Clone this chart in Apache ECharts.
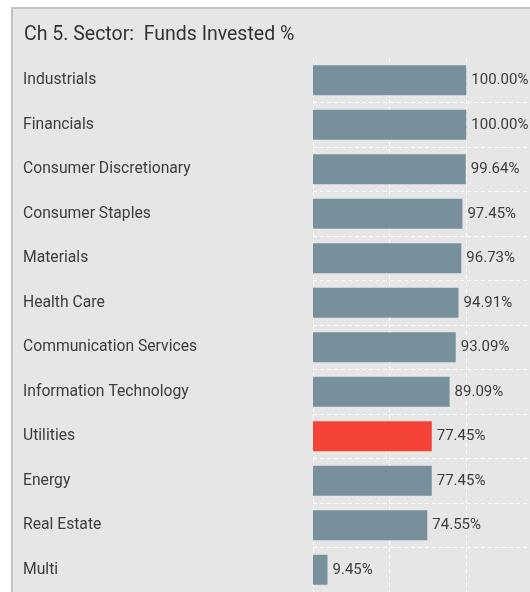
<!DOCTYPE html>
<html>
<head>
<meta charset="utf-8">
<script src="https://cdn.jsdelivr.net/npm/echarts@6/dist/echarts.min.js"></script>
<style>
html,body{margin:0;padding:0;background:#fff;overflow:hidden;width:530px;height:592px;}
#c{width:543px;height:592px;}
</style>
</head>
<body>
<div id="c"></div>
<script>
var categories = ["Industrials","Financials","Consumer Discretionary","Consumer Staples","Materials","Health Care","Communication Services","Information Technology","Utilities","Energy","Real Estate","Multi"];
var values = [100.00,100.00,99.64,97.45,96.73,94.91,93.09,89.09,77.45,77.45,74.55,9.45];
var highlight = "Utilities";
var xTicks = [0,50,100,150];

var chart = echarts.init(document.getElementById('c'), null, {renderer:'canvas'});
var FONT = "Roboto, 'Noto Sans', sans-serif";
chart.setOption({
  backgroundColor:'#ffffff',
  animation:false,
  graphic:[{
    type:'rect', z:-10, silent:true,
    shape:{x:12, y:8, width:600, height:700},
    style:{fill:'#e6e6e6', stroke:'#c4c4c4', lineWidth:2}
  }],
  title:{
    text:'Ch 5. Sector:  Funds Invested %',
    left:19, top:20,
    textStyle:{fontFamily:FONT, fontSize:19.5, fontWeight:'normal', color:'#333333'}
  },
  grid:{left:313, right:0, top:58, bottom:-2, containLabel:false},
  xAxis:{
    type:'value', min:xTicks[0], max:xTicks[xTicks.length-1], interval:50,
    axisLabel:{show:false}, axisLine:{show:false}, axisTick:{show:false},
    splitLine:{show:true, lineStyle:{color:'#ffffff', type:[4,3], width:1}}
  },
  yAxis:{
    type:'category', inverse:true, data:categories,
    axisLine:{show:false}, axisTick:{show:false},
    axisLabel:{align:'left', margin:290, fontFamily:FONT, fontSize:15.7, color:'#3c3c3c'},
    splitLine:{show:true, interval:function(i){return i!==0;}, lineStyle:{color:'#ffffff', type:[4,3], width:1}}
  },
  series:[{
    type:'bar', barWidth:30,
    data:values.map(function(v,i){
      return {value:v, itemStyle:{color: categories[i]===highlight ? '#f44336' : '#78909c'}};
    }),
    label:{show:true, position:'right', distance:5, fontFamily:FONT, fontSize:15, color:'#3c3c3c',
      formatter:function(p){return p.value.toFixed(2)+'%';}}
  }]
});
</script>
</body>
</html>
